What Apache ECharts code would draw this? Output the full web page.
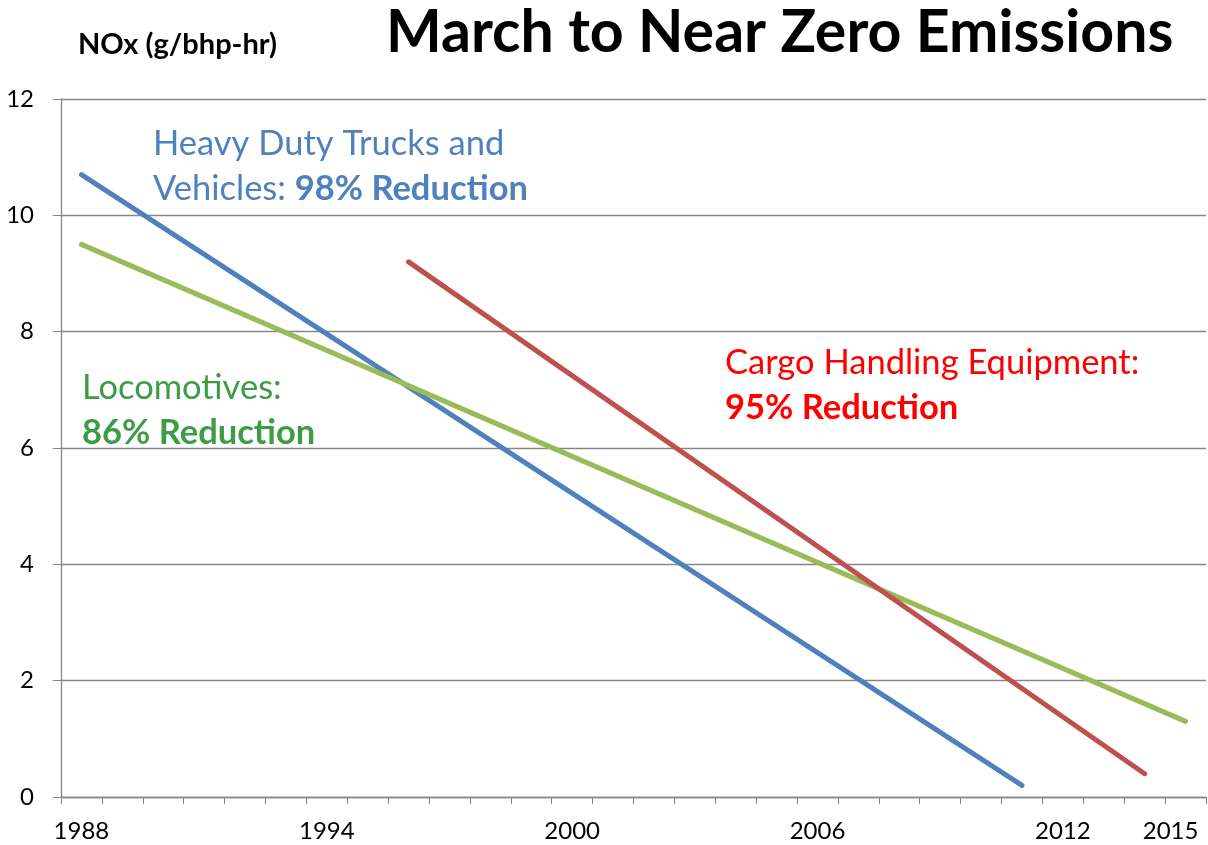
<!DOCTYPE html>
<html>
<head>
<meta charset="utf-8">
<script src="https://cdn.jsdelivr.net/npm/echarts@6/dist/echarts.min.js"></script>
<style>
html,body{margin:0;padding:0;background:#fff;}
#main{width:1208px;height:845px;}
</style>
</head>
<body>
<div id="main"></div>
<script>
var years = [1988,1989,1990,1991,1992,1993,1994,1995,1996,1997,1998,1999,2000,2001,2002,2003,2004,2005,2006,2007,2008,2009,2010,2011,2012,2013,2014,2015];
var shownYearLabels = [1988,1994,2000,2006,2012,2015];
var yTicks = [0,2,4,6,8,10,12];
// endpoint values (other years have no marker in the original)
var trucks = {1988: 10.7, 2011: 0.2};
var locomotives = {1988: 9.5, 2015: 1.3};
var cargo = {1996: 9.2, 2014: 0.4};

function toSeries(obj){ return years.map(function(y){ return obj.hasOwnProperty(y) ? obj[y] : null; }); }

var FONT = 'Lato';
var TXT = 34.5;
var chart = echarts.init(document.getElementById('main'), null, {renderer:'canvas'});
var gray = '#868686';
chart.setOption({
  backgroundColor:'#fff',
  animation:false,
  grid:{left:61,right:2,top:99,bottom:48,containLabel:false},
  xAxis:{
    type:'category',
    data:years.map(String),
    boundaryGap:true,
    axisLine:{lineStyle:{color:gray,width:1.3}},
    axisTick:{show:true,interval:0,length:7,lineStyle:{color:gray}},
    axisLabel:{
      interval:function(i,v){ return shownYearLabels.indexOf(+v) >= 0; },
      formatter:function(v){ return +v === years[years.length-1] ? '{r|'+v+'}' : v; },
      rich:{r:{fontSize:24,color:'#000',fontFamily:FONT,padding:[0,30,0,0]}},
      margin:22,fontSize:24,color:'#000',fontFamily:FONT
    },
    splitLine:{show:false}
  },
  yAxis:{
    type:'value',min:yTicks[0],max:yTicks[yTicks.length-1],interval:2,
    axisLine:{show:true,lineStyle:{color:gray,width:1.3}},
    axisTick:{show:true,length:8,lineStyle:{color:gray}},
    axisLabel:{margin:27,fontSize:24,color:'#000',fontFamily:FONT},
    splitLine:{show:true,lineStyle:{color:gray,width:1.3}}
  },
  series:[
    {type:'line',name:'Heavy Duty Trucks',data:toSeries(trucks),connectNulls:true,showSymbol:false,
     lineStyle:{color:'#4F81BD',width:5,cap:'round'}},
    {type:'line',name:'Locomotives',data:toSeries(locomotives),connectNulls:true,showSymbol:false,
     lineStyle:{color:'#9BBB59',width:5,cap:'round'}},
    {type:'line',name:'Cargo Handling',data:toSeries(cargo),connectNulls:true,showSymbol:false,
     lineStyle:{color:'#C0504D',width:5,cap:'round'}}
  ],
  graphic:[
    {type:'text',left:386,top:3,style:{text:'March to Near Zero Emissions',font:'bold 59px '+FONT,fill:'#000'}},
    {type:'text',left:78,top:30,style:{text:'NOx (g/bhp-hr)',font:'bold 29px '+FONT,fill:'#000'}},
    {type:'text',left:153,top:121,style:{
      text:'Heavy Duty Trucks and\n{n|Vehicles: }{b|98% Reduction}',
      font:TXT+'px '+FONT,fill:'#4F81BD',lineHeight:45,
      rich:{n:{font:TXT+'px '+FONT,fill:'#4F81BD',lineHeight:45},b:{font:'bold '+TXT+'px '+FONT,fill:'#4F81BD',lineHeight:45}}
    }},
    {type:'text',left:82,top:365,style:{
      text:'Locomotives:\n{b|86% Reduction}',
      font:TXT+'px '+FONT,fill:'#3D9C46',lineHeight:45,
      rich:{b:{font:'bold '+TXT+'px '+FONT,fill:'#3D9C46',lineHeight:45}}
    }},
    {type:'text',left:725,top:340,style:{
      text:'Cargo Handling Equipment:\n{b|95% Reduction}',
      font:TXT+'px '+FONT,fill:'#FF0000',lineHeight:45,
      rich:{b:{font:'bold '+TXT+'px '+FONT,fill:'#FF0000',lineHeight:45}}
    }}
  ]
});
</script>
</body>
</html>
